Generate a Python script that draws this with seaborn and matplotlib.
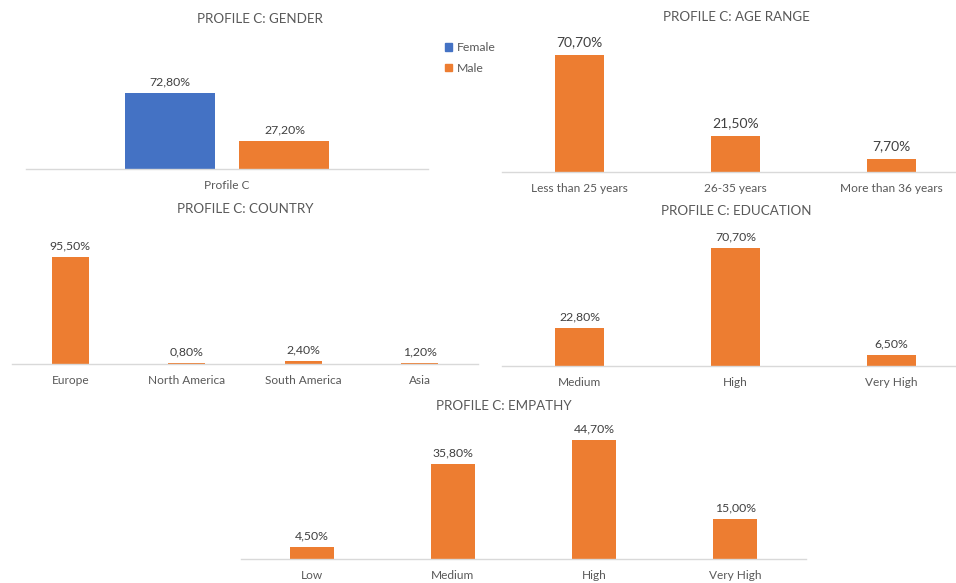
import seaborn as sns
import pandas as pd
import matplotlib.pyplot as plt
from matplotlib.patches import Patch

# data (percent)
gender_cats = ["Female", "Male"]
gender_vals = [72.8, 27.2]

age_cats = ["Less than 25 years", "26-35 years", "More than 36 years"]
age_vals = [70.7, 21.5, 7.7]

country_cats = ["Europe", "North America", "South America", "Asia"]
country_vals = [95.5, 0.8, 2.4, 1.2]

edu_cats = ["Medium", "High", "Very High"]
edu_vals = [22.8, 70.7, 6.5]

emp_cats = ["Low", "Medium", "High", "Very High"]
emp_vals = [4.5, 35.8, 44.7, 15.0]

BLUE = "#4472C4"
ORANGE = "#ED7D31"
TITLE_C = "#595959"
LABEL_C = "#404040"
AXIS_C = "#D9D9D9"

sns.set_style("white")
plt.rcParams['font.family'] = ['Lato', 'DejaVu Sans']

W, H = 956, 583
fig = plt.figure(figsize=(W / 100, H / 100), dpi=100)


def add_panel(left, right, base, top):
    # pixel box -> figure fraction
    return fig.add_axes([left / W, 1 - base / H, (right - left) / W, (base - top) / H])


def style(ax, ymax, ncat):
    ax.set_ylim(0, ymax)
    ax.set_xlim(-0.5, ncat - 0.5)
    for s in ["top", "left", "right"]:
        ax.spines[s].set_visible(False)
    ax.spines["bottom"].set_color(AXIS_C)
    ax.spines["bottom"].set_linewidth(1.0)
    ax.set_yticks([])
    ax.set_xlabel("")
    ax.set_ylabel("")
    ax.tick_params(axis="x", length=0, pad=8, labelsize=8.6, labelcolor=TITLE_C)
    ax.patch.set_alpha(0)


def pct(v):
    return f"{v:.2f}".replace(".", ",") + "%"


def labels(ax, size=8.8, pad=4):
    for c in ax.containers:
        ax.bar_label(c, labels=[pct(b.get_height()) for b in c], padding=pad,
                     fontsize=size, color=LABEL_C)


def title(x, y, text):
    fig.text(x / W, 1 - y / H, text, ha="center", va="center",
             fontsize=9.6, color=TITLE_C)


# gender
ax = add_panel(26, 428, 169, 60)
gdf = pd.DataFrame({"group": ["Profile C"] * 2, "gender": gender_cats, "value": gender_vals})
sns.barplot(data=gdf, x="group", y="value", hue="gender", palette=[BLUE, ORANGE],
            width=0.572, gap=0.217, saturation=1, linewidth=0, legend=False, ax=ax)
style(ax, 104.4, 1)
labels(ax)
title(260, 19, "PROFILE C: GENDER")
fig.legend(handles=[Patch(color=BLUE, label="Female"), Patch(color=ORANGE, label="Male")],
           loc="upper left", bbox_to_anchor=(434 / W, 1 - 31 / H), frameon=False,
           fontsize=8.8, handlelength=0.6, handleheight=0.6, handletextpad=0.35,
           labelspacing=0.8, labelcolor=TITLE_C)

# age
ax = add_panel(502, 969, 172, 40)
sns.barplot(x=age_cats, y=age_vals, color=ORANGE, width=0.315, saturation=1,
            linewidth=0, ax=ax)
style(ax, 79.8, 3)
labels(ax, 10, 5)
title(736, 17, "PROFILE C: AGE RANGE")

# country
ax = add_panel(12, 478, 364, 240)
sns.barplot(x=country_cats, y=country_vals, color=ORANGE, width=0.317, saturation=1,
            linewidth=0, ax=ax)
style(ax, 110.7, 4)
labels(ax)
title(245, 209, "PROFILE C: COUNTRY")

# education
ax = add_panel(502, 969, 366, 230)
sns.barplot(x=edu_cats, y=edu_vals, color=ORANGE, width=0.315, saturation=1,
            linewidth=0, ax=ax)
style(ax, 81.4, 3)
labels(ax)
title(736, 211, "PROFILE C: EDUCATION")

# empathy
ax = add_panel(241, 806, 559, 420)
sns.barplot(x=emp_cats, y=emp_vals, color=ORANGE, width=0.31, saturation=1,
            linewidth=0, ax=ax)
style(ax, 52.3, 4)
labels(ax)
title(504, 406, "PROFILE C: EMPATHY")

fig.savefig("out.png", dpi=100)
